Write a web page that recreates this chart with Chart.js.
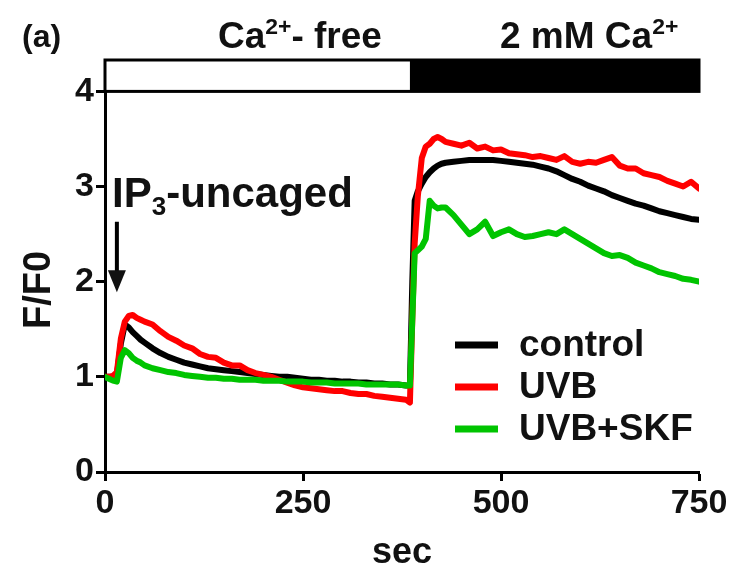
<!DOCTYPE html>
<html>
<head>
<meta charset="utf-8">
<script src="https://cdn.jsdelivr.net/npm/chart.js@4.4.0/dist/chart.umd.min.js"></script>
<style>
  html, body { margin: 0; padding: 0; background: #fff; }
  canvas { display: block; }
</style>
</head>
<body>
<canvas id="chart" width="731" height="574"></canvas>
<script>
// time axis (sec), denser around the two transitions
const sec = [
  0, 5, 10, 15, 20, 25, 30, 35, 40, 45, 50,
  60, 70, 80, 90, 100, 110, 120, 130, 140, 150,
  160, 170, 180, 190, 200, 210, 220, 230, 240, 250,
  260, 270, 280, 290, 300, 310, 320, 330, 340, 350,
  360, 370, 380,
  385, 388, 391, 395, 400, 405, 410, 415, 420, 425, 430,
  440, 450, 460, 470, 480, 490, 500, 510, 520, 530,
  540, 550, 560, 570, 580, 590, 600, 610, 620, 630,
  640, 650, 660, 670, 680, 690, 700, 710, 720, 730,
  740, 750
];

const control = [
  1.00, 1.00, 1.00, 1.02, 1.35, 1.55, 1.52, 1.47, 1.43, 1.39, 1.36,
  1.30, 1.25, 1.21, 1.18, 1.15, 1.13, 1.11, 1.09, 1.08, 1.07,
  1.06, 1.05, 1.04, 1.03, 1.02, 1.01, 1.00, 1.00, 0.99, 0.98,
  0.97, 0.97, 0.96, 0.96, 0.95, 0.95, 0.94, 0.94, 0.93, 0.93,
  0.92, 0.92, 0.91,
  0.91, 2.00, 2.85, 2.95, 3.03, 3.10, 3.15, 3.19, 3.22, 3.24, 3.25,
  3.26, 3.27, 3.28, 3.28, 3.28, 3.28, 3.27, 3.26, 3.25, 3.24,
  3.23, 3.21, 3.19, 3.16, 3.12, 3.08, 3.05, 3.01, 2.98, 2.95,
  2.91, 2.88, 2.85, 2.82, 2.80, 2.77, 2.74, 2.72, 2.70, 2.68,
  2.66, 2.65
];

const uvb = [
  1.00, 1.00, 1.01, 1.05, 1.40, 1.58, 1.64, 1.65, 1.62, 1.60, 1.58,
  1.55, 1.48, 1.42, 1.38, 1.33, 1.30, 1.24, 1.21, 1.20, 1.15,
  1.12, 1.12, 1.07, 1.04, 1.02, 1.00, 0.97, 0.94, 0.91, 0.89,
  0.88, 0.87, 0.86, 0.85, 0.85, 0.83, 0.82, 0.82, 0.80, 0.79,
  0.78, 0.77, 0.76,
  0.73, 1.60, 2.40, 2.90, 3.30, 3.42, 3.45, 3.50, 3.52, 3.50, 3.47,
  3.45, 3.43, 3.46, 3.40, 3.42, 3.38, 3.39, 3.35, 3.34, 3.33,
  3.31, 3.32, 3.30, 3.28, 3.32, 3.26, 3.24, 3.26, 3.25, 3.28,
  3.31, 3.22, 3.19, 3.19, 3.14, 3.12, 3.10, 3.06, 3.03, 3.00,
  3.05, 2.98
];

const uvbSkf = [
  1.00, 0.98, 0.96, 0.95, 1.20, 1.28, 1.25, 1.20, 1.17, 1.15, 1.12,
  1.09, 1.07, 1.05, 1.04, 1.02, 1.01, 1.00, 0.99, 0.99, 0.98,
  0.98, 0.97, 0.97, 0.97, 0.96, 0.96, 0.96, 0.95, 0.95, 0.95,
  0.94, 0.94, 0.94, 0.93, 0.93, 0.93, 0.93, 0.92, 0.92, 0.92,
  0.92, 0.92, 0.91,
  0.91, 1.60, 2.30, 2.33, 2.37, 2.45, 2.85, 2.80, 2.77, 2.78, 2.78,
  2.70, 2.60, 2.50, 2.55, 2.63, 2.48, 2.52, 2.55, 2.50, 2.47,
  2.48, 2.50, 2.52, 2.50, 2.55, 2.50, 2.45, 2.40, 2.35, 2.30,
  2.27, 2.28, 2.25, 2.20, 2.17, 2.14, 2.10, 2.08, 2.06, 2.03,
  2.02, 2.00
];

const seriesLabels = ['control', 'UVB', 'UVB+SKF'];
const xTicks = [0, 250, 500, 750];
const yTicks = [0, 1, 2, 3, 4];
const caSwitch = 385;        // sec, Ca2+-free -> 2 mM Ca2+
const barRange = [4, 4.33];  // solution bar, in F/F0 units
const uncageAt = 15;         // sec, IP3 uncaging arrow

const FONT = '"Liberation Sans", Arial, Helvetica, sans-serif';

function pts(vals) { return sec.map((t, i) => ({ x: t, y: vals[i] })); }

function richText(ctx, parts, x, y, size) {
  let cx = x;
  parts.forEach(p => {
    const s = (p.sup || p.sub) ? size * 0.62 : size;
    ctx.font = 'bold ' + s + 'px ' + FONT;
    const dy = p.sup ? -size * 0.38 : (p.sub ? size * 0.2 : 0);
    ctx.fillText(p.t, cx, y + dy);
    cx += ctx.measureText(p.t).width;
  });
}

const overlay = {
  id: 'overlay',
  afterDatasetsDraw(chart) {
    const { ctx, scales: { x, y } } = chart;
    ctx.save();

    // solution bar
    const xl = x.getPixelForValue(0), xm = x.getPixelForValue(caSwitch), xr = x.getPixelForValue(750);
    const yb = y.getPixelForValue(barRange[0]), yt = y.getPixelForValue(barRange[1]);
    ctx.fillStyle = '#fff';
    ctx.fillRect(xl, yt, xm - xl, yb - yt);
    ctx.fillStyle = '#000';
    ctx.fillRect(xm, yt, xr - xm, yb - yt);
    ctx.lineWidth = 3;
    ctx.strokeStyle = '#000';
    ctx.strokeRect(xl, yt, xr - xl, yb - yt);

    // headings
    ctx.fillStyle = '#111';
    ctx.textBaseline = 'alphabetic';
    ctx.textAlign = 'left';
    richText(ctx, [{ t: '(a)' }], 22, 47, 32);
    richText(ctx, [{ t: 'Ca' }, { t: '2+', sup: true }, { t: '- free' }], 218, 48, 37);
    richText(ctx, [{ t: '2 mM Ca' }, { t: '2+', sup: true }], 500, 48, 37);

    // IP3 uncaged label + arrow
    richText(ctx, [{ t: 'IP' }, { t: '3', sub: true }, { t: '-uncaged' }], 112, 207, 42);
    const ax = x.getPixelForValue(uncageAt);
    const aTop = y.getPixelForValue(2.63), aTip = y.getPixelForValue(1.89);
    ctx.lineWidth = 4;
    ctx.beginPath();
    ctx.moveTo(ax, aTop);
    ctx.lineTo(ax, aTip - 18);
    ctx.stroke();
    ctx.beginPath();
    ctx.moveTo(ax - 9, aTip - 22);
    ctx.lineTo(ax + 9, aTip - 22);
    ctx.lineTo(ax, aTip);
    ctx.closePath();
    ctx.fill();

    // legend
    const lx = 455, ly0 = 345, lstep = 42;
    chart.data.datasets.slice().sort((a, b) => seriesLabels.indexOf(a.label) - seriesLabels.indexOf(b.label))
      .forEach((ds, i) => {
        const ly = ly0 + i * lstep;
        ctx.strokeStyle = ds.borderColor;
        ctx.lineWidth = 7;
        ctx.beginPath();
        ctx.moveTo(lx, ly);
        ctx.lineTo(lx + 43, ly);
        ctx.stroke();
        ctx.fillStyle = '#111';
        ctx.font = 'bold 37px ' + FONT;
        ctx.textBaseline = 'middle';
        ctx.fillText(ds.label, lx + 64, ly + 1);
      });

    // axis titles
    ctx.font = 'bold 36px ' + FONT;
    ctx.textAlign = 'center';
    ctx.textBaseline = 'middle';
    ctx.fillText('sec', (x.left + x.right) / 2, 553);
    ctx.font = 'bold 38px ' + FONT;
    ctx.translate(40, 290);
    ctx.rotate(-Math.PI / 2);
    ctx.fillText('F/F0', 0, 0);

    ctx.restore();
  }
};

const axisCommon = {
  type: 'linear',
  grid: { drawOnChartArea: false, drawTicks: true, tickLength: 9, tickWidth: 3, tickColor: '#000' },
  border: { display: true, color: '#000', width: 3 },
  ticks: { color: '#111', font: { family: FONT, size: 34, weight: 'bold' }, autoSkip: false, maxRotation: 0 }
};

new Chart(document.getElementById('chart'), {
  type: 'line',
  data: {
    datasets: [
      { label: seriesLabels[2], data: pts(uvbSkf), borderColor: '#00c400', order: 1 },
      { label: seriesLabels[1], data: pts(uvb), borderColor: '#ff0000', order: 2 },
      { label: seriesLabels[0], data: pts(control), borderColor: '#000000', order: 3 }
    ]
  },
  options: {
    responsive: false,
    animation: false,
    devicePixelRatio: 1,
    layout: { padding: { top: 60, right: 32, left: 0, bottom: 0 } },
    plugins: { legend: { display: false }, tooltip: { enabled: false } },
    elements: {
      point: { radius: 0 },
      line: { borderWidth: 6, tension: 0, borderJoinStyle: 'round', borderCapStyle: 'round', fill: false }
    },
    scales: {
      x: Object.assign({}, axisCommon, {
        min: 0, max: 750,
        afterBuildTicks: s => { s.ticks = xTicks.map(v => ({ value: v })); },
        afterFit: s => { s.height = 102; },
        ticks: Object.assign({}, axisCommon.ticks, { padding: 2 })
      }),
      y: Object.assign({}, axisCommon, {
        min: 0, max: barRange[1],
        afterBuildTicks: s => { s.ticks = yTicks.map(v => ({ value: v })); },
        afterFit: s => { s.width = 105; },
        ticks: Object.assign({}, axisCommon.ticks, { padding: 2 })
      })
    }
  },
  plugins: [overlay]
});
</script>
</body>
</html>
